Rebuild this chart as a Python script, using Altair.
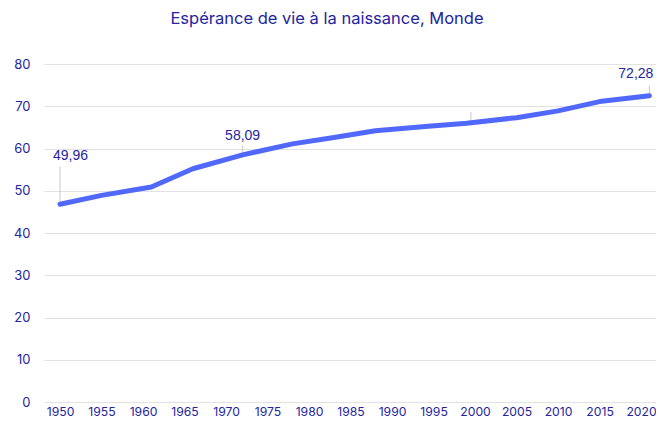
import altair as alt
import pandas as pd

years = [1950, 1955, 1961, 1966, 1972, 1978, 1983, 1988, 1994, 1999, 2005, 2010, 2015, 2021]
values = [46.8, 48.9, 50.9, 55.2, 58.5, 61.1, 62.6, 64.2, 65.2, 66.0, 67.3, 68.9, 71.1, 72.5]

ann_years = [1950, 1972, 1999.5, 2021]
ann_at = [46.8, 58.3, 66.0, 72.5]
ann_labels = ["49,96", "58,09", "", "72,28"]

x_ticks = list(range(1950, 2021, 5))
y_ticks = [0, 10, 20, 30, 40, 50, 60, 70, 80]

TITLE = "Espérance de vie à la naissance, Monde"
NAVY = "#2424a0"

df = pd.DataFrame({"year": years, "value": values})
ann = pd.DataFrame({"year": ann_years, "v": ann_at, "label": ann_labels})

xscale = alt.Scale(domain=[1948.07, 2021.80], nice=False, zero=False)
yscale = alt.Scale(domain=[0, 80], nice=False)

base = alt.Chart(df)

line = base.mark_line(color="#5068fb", strokeWidth=5, strokeCap="round", strokeJoin="round").encode(
    x=alt.X("year:Q", scale=xscale,
            axis=alt.Axis(values=x_ticks, format="d", title=None, grid=False, domain=False,
                          ticks=False, labelPadding=3, labelFontSize=12.2, labelColor=NAVY,
                          labelFont="Inter", labelFlush=False, labelOverlap=False)),
    y=alt.Y("value:Q", scale=yscale,
            axis=alt.Axis(values=y_ticks, title=None, domain=False, ticks=False,
                          labelPadding=14, labelFontSize=13, labelColor=NAVY, labelFont="Inter",
                          gridColor="#e2e2e2", gridWidth=1.2)),
)

rules_len = [8.9, 2.4, 2.6, 2.4]
ann2 = ann.copy()
ann2["top"] = [a + l for a, l in zip(ann_at, rules_len)]
rules = alt.Chart(ann2).mark_rule(color="#c8c8c8", strokeWidth=1).encode(
    x=alt.X("year:Q", scale=xscale),
    y=alt.Y("v:Q", scale=yscale),
    y2="top:Q",
)

def label(i, align, dx, dy):
    return alt.Chart(ann.iloc[[i]]).mark_text(
        align=align, dx=dx, dy=dy, fontSize=14, color=NAVY, font="Liberation Sans"
    ).encode(
        x=alt.X("year:Q", scale=xscale),
        y=alt.Y("v:Q", scale=yscale),
        text="label:N",
    )

labels = label(0, "left", -7, -48) + label(1, "center", 0, -20) + label(3, "right", 4, -22)

chart = alt.layer(rules, line, labels).properties(
    width=612,
    height=338,
    autosize=alt.AutoSizeParams(type="none"),
    padding={"left": 36, "top": 56, "right": 0, "bottom": 18},
    title=alt.TitleParams(TITLE, anchor="middle", dx=-23, offset=31, fontSize=16.5,
                          fontWeight="normal", color=NAVY, font="Inter"),
).configure_view(stroke=None)

chart.save("out.html", embed_options={"renderer": "svg", "actions": False})
